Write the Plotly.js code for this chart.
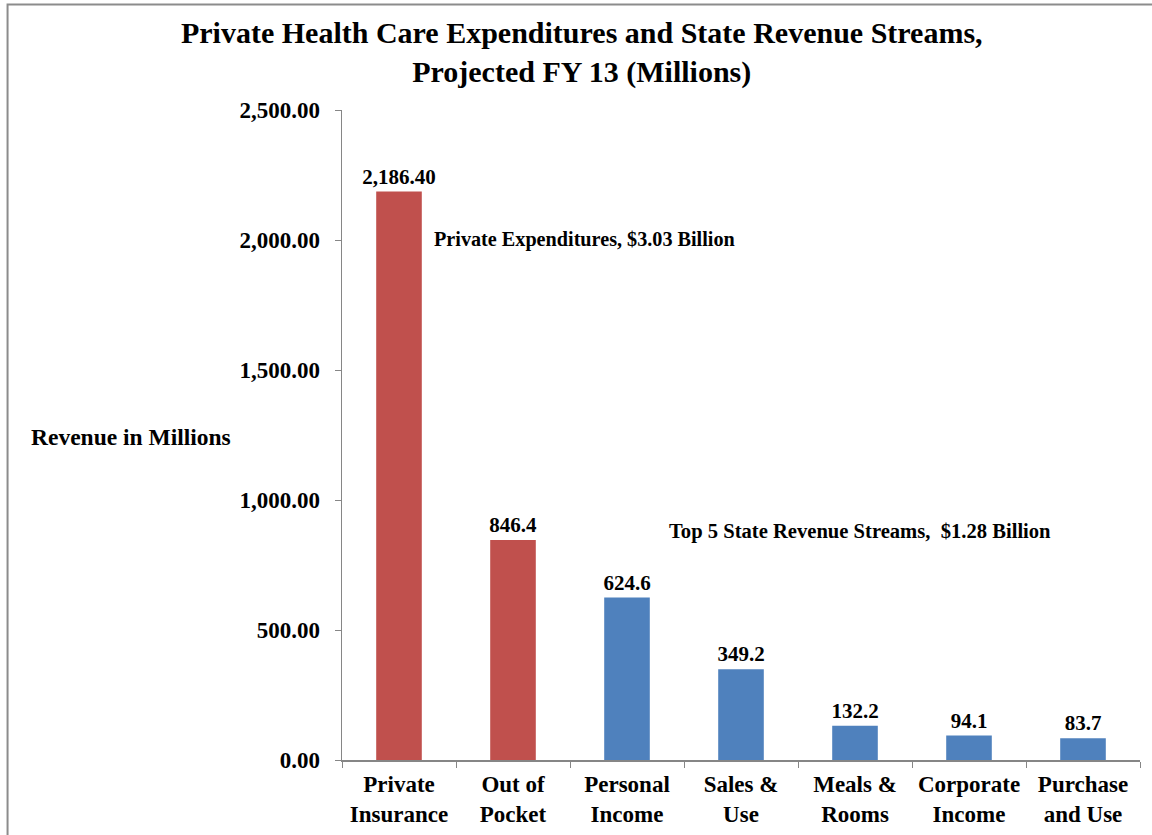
<!DOCTYPE html>
<html>
<head>
<meta charset="utf-8">
<script src="https://cdn.plot.ly/plotly-3.0.1.min.js"></script>
<style>html,body{margin:0;padding:0;background:#fff;}#chart{width:1152px;height:835px;}</style>
</head>
<body>
<div id="chart"></div>
<script>
const categories = ["Private<br>Insurance","Out of<br>Pocket","Personal<br>Income","Sales &<br>Use","Meals &<br>Rooms","Corporate<br>Income","Purchase<br>and Use"];
const values = [2186.40, 846.4, 624.6, 349.2, 132.2, 94.1, 83.7];
const valueLabels = ["2,186.40","846.4","624.6","349.2","132.2","94.1","83.7"];
const groups = ["private","private","state","state","state","state","state"];
const yTicks = [0, 500, 1000, 1500, 2000, 2500];

const groupColors = {private: "#C0504D", state: "#4F81BD"};
const FONT = "Liberation Serif, Times New Roman, serif";

const trace = {
  type: "bar",
  x: categories,
  y: values,
  text: valueLabels,
  textposition: "outside",
  constraintext: "none",
  cliponaxis: false,
  textfont: {family: FONT, size: 21, color: "#000", weight: "bold"},
  marker: {color: groups.map(g => groupColors[g])},
  width: 0.4,
  hoverinfo: "x+y"
};

const layout = {
  width: 1152, height: 835,
  margin: {l: 342, r: 12, t: 110, b: 75},
  paper_bgcolor: "#fff", plot_bgcolor: "#fff",
  showlegend: false,
  font: {family: FONT, color: "#000"},
  title: {
    text: "Private Health Care Expenditures and State Revenue Streams,<br>Projected FY 13 (Millions)",
    font: {family: FONT, size: 30, color: "#000", weight: "bold"},
    xref: "container", x: 0.505, xanchor: "center",
    yref: "container", y: 0.948, yanchor: "top"
  },
  xaxis: {
    type: "category",
    tickson: "boundaries",
    ticks: "outside", ticklen: 6, tickcolor: "#868686",
    showline: true, linecolor: "#868686", linewidth: 1.5,
    showgrid: false,
    ticklabelstandoff: 3,
    tickfont: {family: FONT, size: 23, color: "#000", weight: "bold"}
  },
  yaxis: {
    range: [0, 2500],
    tickvals: yTicks,
    tickformat: ",.2f",
    ticks: "outside", ticklen: 6, tickcolor: "#868686",
    showline: true, linecolor: "#868686", linewidth: 1.5,
    showgrid: false, zeroline: false,
    ticklabelstandoff: 10,
    tickfont: {family: FONT, size: 23, color: "#000", weight: "bold"}
  },
  annotations: [
    {text: "Revenue in Millions", xref: "paper", yref: "paper", x: -0.2644, y: 0.497,
     xanchor: "center", yanchor: "middle", showarrow: false,
     font: {family: FONT, size: 23.5, color: "#000", weight: "bold"}},
    {text: "Private Expenditures, $3.03 Billion", xref: "paper", yref: "paper", x: 0.1128, y: 0.8,
     xanchor: "left", yanchor: "middle", showarrow: false,
     font: {family: FONT, size: 20.2, color: "#000", weight: "bold"}},
    {text: "Top 5 State Revenue Streams,&nbsp; $1.28 Billion", xref: "paper", yref: "paper", x: 0.4073, y: 0.352,
     xanchor: "left", yanchor: "middle", showarrow: false,
     font: {family: FONT, size: 20.6, color: "#000", weight: "bold"}}
  ],
  shapes: [
    {type: "rect", xref: "paper", yref: "paper", x0: -0.4191, x1: 1.2, y0: -0.3, y1: 1.1625,
     line: {color: "#8c8c8c", width: 2}, fillcolor: "rgba(0,0,0,0)", layer: "below"}
  ]
};

Plotly.newPlot("chart", [trace], layout, {displayModeBar: false, staticPlot: true});
</script>
</body>
</html>
